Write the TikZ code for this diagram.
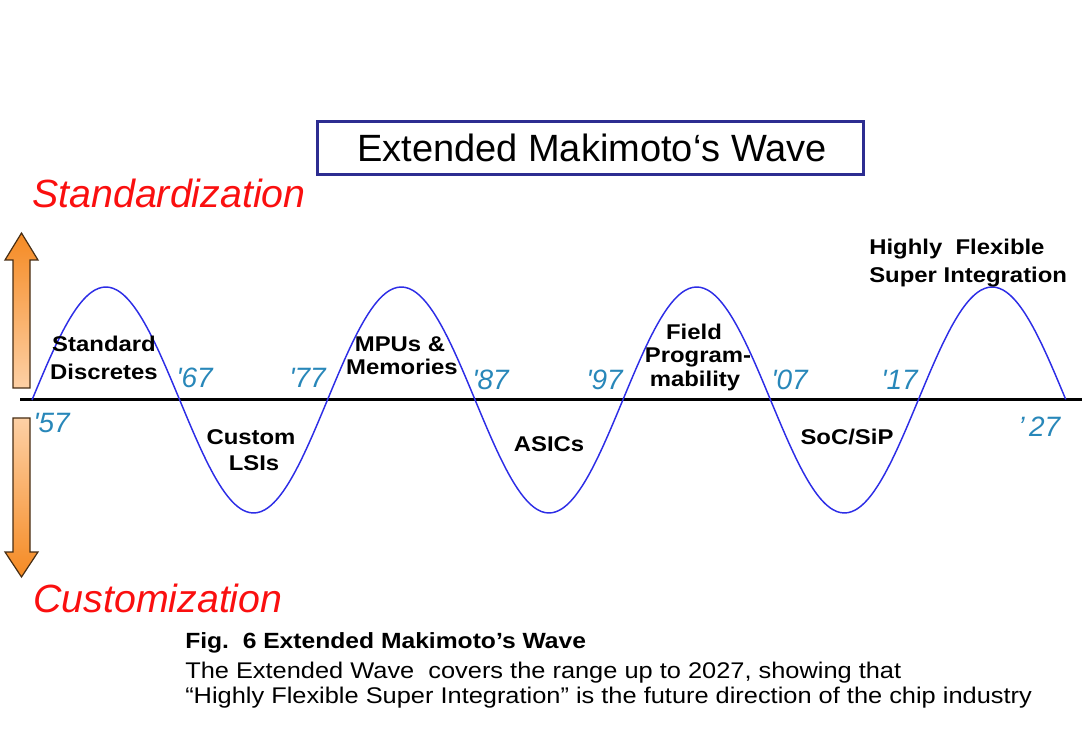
\documentclass[tikz,border=0pt]{standalone}
\usepackage{fontspec}
\setmainfont{Liberation Sans}
\newfontfamily\yearfont{Liberation Sans}
\newfontfamily\wideface{Liberation Sans}[FakeStretch=1.12]
\definecolor{waveblue}{RGB}{45,45,230}
\definecolor{boxblue}{RGB}{45,45,145}
\definecolor{yearblue}{RGB}{40,135,185}
\definecolor{trendred}{RGB}{250,15,15}
\definecolor{arrowdark}{RGB}{245,138,35}
\definecolor{arrowlight}{RGB}{253,208,165}
\definecolor{arrowedge}{RGB}{70,45,20}

\begin{document}
\begin{tikzpicture}[x=0.75pt,y=-0.75pt,
    phase/.style={anchor=base,inner sep=0pt,font=\wideface\bfseries\fontsize{16}{18}\selectfont},
    year/.style={anchor=base west,inner sep=0pt,text=yearblue,font=\yearfont\itshape\fontsize{21}{24}\selectfont},
    trend/.style={anchor=base west,inner sep=0pt,text=trendred,font=\itshape\fontsize{29.5}{33}\selectfont},
    capline/.style={anchor=base west,inner sep=0pt,font=\wideface\fontsize{17}{20}\selectfont}]
        \useasboundingbox (0,0) rectangle (1082,741);
        % title box
        \draw[boxblue,line width=2.25pt] (317,122) rectangle (863,175);
        \node[anchor=base west,inner sep=0pt,font=\fontsize{28.5}{32}\selectfont] (title) at (357,162) {Extended Makimoto‘s Wave};
        \node[trend] (stdz) at (32,208) {Standardization};
        \node[trend] (custz) at (33,612) {Customization};
        % orange arrows
        \shade[top color=arrowdark,bottom color=arrowlight,draw=arrowedge,line width=0.9pt] (13,388) -- (13,260) -- (5,260) -- (21.5,233) -- (38,260) -- (30,260) -- (30,388) -- cycle;
        \shade[top color=arrowlight,bottom color=arrowdark,draw=arrowedge,line width=0.9pt] (13,418) -- (13,552) -- (5,552) -- (21.5,577) -- (38,552) -- (30,552) -- (30,418) -- cycle;
        % axis and wave
        \draw[line width=2.25pt] (20,400) -- (1082,400);
        \draw[waveblue,line width=1.1pt] plot[domain=0:7,samples=281,smooth] ({32+147.71*\x},{400-113*sin(180*\x)});
        
        \node[phase] (sd1) at (104,352) {Standard};
        \node[phase] (sd2) at (104,380) {Discretes};
        \node[phase] (cl1) at (251,445) {Custom};
        \node[phase] (cl2) at (254,470) {LSIs};
        \node[phase] (mp1) at (400,352) {MPUs \&};
        \node[phase] (mp2) at (402,375) {Memories};
        \node[phase] (as1) at (549,452) {ASICs};
        \node[phase] (fp1) at (694,340) {Field};
        \node[phase] (fp2) at (698,363) {Program-};
        \node[phase] (fp3) at (695,387) {mability};
        \node[phase] (ss1) at (847,445) {SoC/SiP};
        \node[phase,anchor=base west] (hf1) at (869,255) {Highly\ \ Flexible};
        \node[phase,anchor=base west] (hf2) at (869,283) {Super Integration};
        
        \node[year] (y57) at (33,433) {'57};
        \node[year] (y67) at (176,388) {'67};
        \node[year] (y77) at (289,388) {'77};
        \node[year] (y87) at (472,390) {'87};
        \node[year] (y97) at (586,390) {'97};
        \node[year] (y07) at (771,390) {'07};
        \node[year] (y17) at (881,390) {'17};
        \node[year] (y27) at (1018,437) {’\,27};
        
        \node[capline,font=\wideface\bfseries\fontsize{16.5}{20}\selectfont] (cap1) at (185,648) {Fig.\ \ 6 Extended Makimoto’s Wave};
        \node[capline] (cap2) at (185,678) {The Extended Wave\ \ covers the range up to 2027, showing that};
        \node[capline] (cap3) at (185,703) {“Highly Flexible Super Integration” is the future direction of the chip industry};
    \end{tikzpicture}
\end{document}
